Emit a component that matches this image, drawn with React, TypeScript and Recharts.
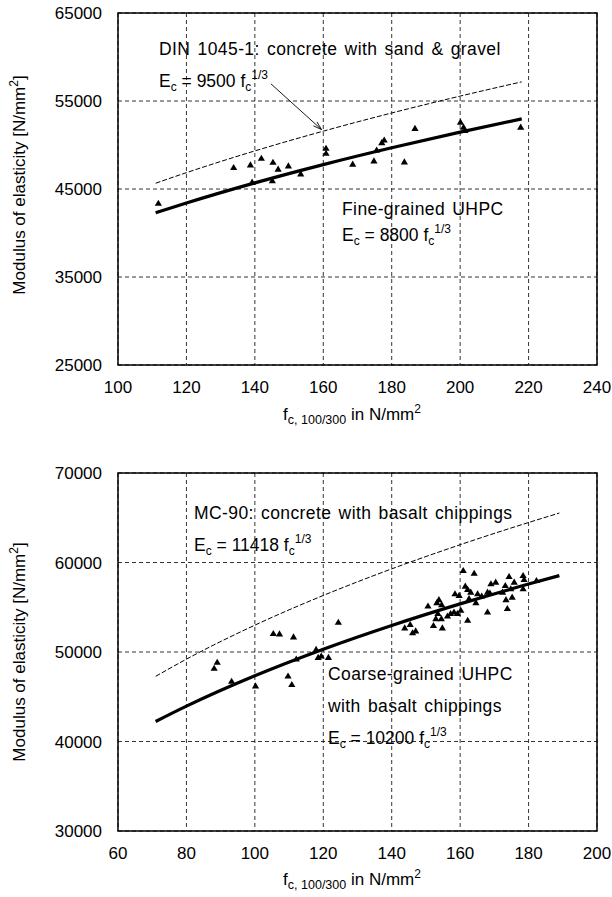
import React from 'react';
import {
  ComposedChart,
  Line,
  Scatter,
  XAxis,
  YAxis,
  CartesianGrid,
  ReferenceArea,
  ReferenceLine,
} from 'recharts';

// upper chart: fine-grained UHPC
const topFitStrength = [111, 120, 140, 160, 180, 200, 218];
const topDin = [45655, 46858, 49329, 51574, 53639, 55556, 57176];
const topFine = [42291, 43405, 45694, 47773, 49687, 51462, 52963];
const topTestStrength = [
  111.8, 133.8, 138.7, 139.2, 141.9, 145.1, 145.3, 146.8, 149.8, 153.4, 160.8, 160.8,
  168.6, 174.8, 175.6, 177.1, 177.8, 183.7, 186.8, 200.1, 201.0, 201.4, 217.7,
];
const topTestModulus = [
  43380, 47450, 47750, 45790, 48500, 45940, 48050, 47260, 47630, 46730, 49630, 49070,
  47830, 48200, 49440, 50280, 50570, 48090, 51890, 52600, 52040, 51670, 52040,
];
const topXTicks = [100, 120, 140, 160, 180, 200, 220, 240];
const topYTicks = [25000, 35000, 45000, 55000, 65000];

// lower chart: coarse-grained UHPC
const bottomFitStrength = [71, 80, 100, 120, 140, 160, 180, 189];
const bottomMc90 = [47280, 49199, 52998, 56318, 59288, 61986, 64468, 65526];
const bottomCoarse = [42236, 43951, 47344, 50310, 52964, 55374, 57591, 58536];
const bottomTestStrength = [
  88.1, 89.0, 93.2, 100.2, 105.4, 107.2, 109.7, 110.8, 111.3, 112.1, 117.9, 118.5,
  119.4, 121.5, 124.4, 143.8, 145.4, 146.1, 147.0, 150.6, 152.2, 152.9, 153.2, 153.5,
  153.8, 154.5, 154.6, 154.8, 156.3, 157.2, 158.2, 158.5, 159.2, 159.7, 160.2, 160.9,
  161.5, 162.2, 162.2, 162.6, 163.1, 164.1, 164.6, 165.1, 166.3, 168.0, 168.0, 168.7,
  169.0, 170.4, 172.4, 173.2, 173.4, 173.8, 174.3, 174.8, 175.2, 175.8, 178.4, 178.4,
  178.7, 182.3,
];
const bottomTestModulus = [
  48190, 48860, 46740, 46220, 52080, 52030, 47330, 46370, 51700, 49220, 50300, 49410,
  49560, 49410, 53330, 52700, 53080, 52150, 52370, 55150, 52970, 53740, 55520, 54300,
  55860, 53740, 55300, 52700, 54030, 54300, 54480, 56520, 54300, 56330, 54670, 59110,
  57370, 57000, 53560, 55970, 56700, 58810, 55520, 56520, 56260, 56700, 54480, 56590,
  57630, 57810, 56700, 57440, 55860, 54860, 58440, 57080, 56140, 57810, 58560, 57080,
  58110, 58000,
];
const bottomXTicks = [60, 80, 100, 120, 140, 160, 180, 200];
const bottomYTicks = [30000, 40000, 50000, 60000, 70000];

const FONT = '"Liberation Sans", Arial, Helvetica, sans-serif';

const Triangle = (props: any) => {
  const { cx, cy } = props;
  if (cx == null || cy == null) return null;
  return <polygon points={`${cx},${cy - 3.5} ${cx + 3.6},${cy + 2.6} ${cx - 3.6},${cy + 2.6}`} fill="#000" />;
};

const Arrow = (props: any) => {
  const { x1, y1, x2, y2 } = props;
  if (x1 == null) return null;
  const ang = Math.atan2(y2 - y1, x2 - x1);
  const len = 9;
  const a1 = ang + Math.PI - 0.3;
  const a2 = ang + Math.PI + 0.3;
  return (
    <g>
      <line x1={x1} y1={y1} x2={x2} y2={y2} stroke="#000" strokeWidth={0.9} />
      <polyline
        points={`${x2 + len * Math.cos(a1)},${y2 + len * Math.sin(a1)} ${x2},${y2} ${x2 + len * Math.cos(a2)},${y2 + len * Math.sin(a2)}`}
        fill="none"
        stroke="#000"
        strokeWidth={0.9}
      />
    </g>
  );
};

interface PanelProps {
  fits: { f: number; upper: number; lower: number }[];
  tests: { f: number; E: number }[];
  xTicks: number[];
  yTicks: number[];
  height: number;
  top: number;
  bottom: number;
  arrow?: { x: number; y: number }[];
}

const Panel: React.FC<PanelProps> = ({ fits, tests, xTicks, yTicks, height, top, bottom, arrow }) => {
  const xd: [number, number] = [xTicks[0], xTicks[xTicks.length - 1]];
  const yd: [number, number] = [yTicks[0], yTicks[yTicks.length - 1]];
  const tickStyle = { fill: '#000', fontSize: 17, fontFamily: FONT };
  return (
    <ComposedChart width={612} height={height} data={fits} margin={{ top, right: 15, left: 0, bottom }}>
      <CartesianGrid stroke="#000" strokeWidth={0.8} strokeDasharray="4 3" />
      <XAxis
        dataKey="f"
        type="number"
        domain={xd}
        ticks={xTicks}
        allowDataOverflow
        tickLine={false}
        axisLine={false}
        tickSize={6}
        tickMargin={10}
        height={30}
        tick={tickStyle}
      />
      <YAxis
        type="number"
        domain={yd}
        ticks={yTicks}
        allowDataOverflow
        tickLine={false}
        axisLine={false}
        tickSize={6}
        tickMargin={10}
        width={118}
        tick={tickStyle}
      />
      <ReferenceArea x1={xd[0]} x2={xd[1]} y1={yd[0]} y2={yd[1]} fill="none" stroke="#000" strokeWidth={1.5} ifOverflow="visible" />
      <Line
        dataKey="upper"
        type="monotone"
        stroke="#000"
        strokeWidth={1}
        strokeDasharray="5 2"
        dot={false}
        isAnimationActive={false}
      />
      <Line dataKey="lower" type="monotone" stroke="#000" strokeWidth={3.2} dot={false} isAnimationActive={false} />
      <Scatter data={tests} dataKey="E" shape={Triangle} isAnimationActive={false} />
      {arrow && <ReferenceLine segment={arrow} shape={Arrow} ifOverflow="visible" />}
    </ComposedChart>
  );
};

const Ec = ({ x, y, value }: { x: number; y: number; value: string }) => (
  <text x={x} y={y} fontSize={17.5} fontFamily={FONT} fill="#000">
    E
    <tspan fontSize={12} dy={4}>c</tspan>
    <tspan dy={-4}>{` = ${value} f`}</tspan>
    <tspan fontSize={12} dy={4}>c</tspan>
    <tspan fontSize={12} dy={-12}>1/3</tspan>
  </text>
);

const Note = ({ x, y, children }: { x: number; y: number; children: React.ReactNode }) => (
  <text
    x={x}
    y={y}
    fontSize={17.5}
    fontFamily={FONT}
    fill="#000"
    style={{ letterSpacing: 0.4, wordSpacing: 2 }}
  >
    {children}
  </text>
);

const XTitle = ({ y }: { y: number }) => (
  <text x={352} y={y} textAnchor="middle" fontSize={17} fontFamily={FONT} fill="#000">
    f
    <tspan fontSize={12.5} dy={4}>c, 100/300</tspan>
    <tspan dy={-4}> in N/mm</tspan>
    <tspan fontSize={12} dy={-7}>2</tspan>
  </text>
);

const YTitle = ({ cy }: { cy: number }) => (
  <text
    x={25}
    y={cy}
    transform={`rotate(-90 25 ${cy})`}
    textAnchor="middle"
    fontSize={17}
    fontFamily={FONT}
    fill="#000"
  >
    Modulus of elasticity [N/mm
    <tspan fontSize={12} dy={-7}>2</tspan>
    <tspan dy={7}>]</tspan>
  </text>
);

export default function App() {
  const topFits = topFitStrength.map((f, i) => ({ f, upper: topDin[i], lower: topFine[i] }));
  const topTests = topTestStrength.map((f, i) => ({ f, E: topTestModulus[i] }));
  const bottomFits = bottomFitStrength.map((f, i) => ({ f, upper: bottomMc90[i], lower: bottomCoarse[i] }));
  const bottomTests = bottomTestStrength.map((f, i) => ({ f, E: bottomTestModulus[i] }));

  return (
    <div style={{ position: 'absolute', left: 0, top: 0, width: 612, height: 897, background: '#fff' }}>
      <div style={{ position: 'absolute', left: 0, top: 0 }}>
        <Panel
          fits={topFits}
          tests={topTests}
          xTicks={topXTicks}
          yTicks={topYTicks}
          height={440}
          top={13}
          bottom={45}
          arrow={[
            { x: 144.7, y: 56950 },
            { x: 159.5, y: 51750 },
          ]}
        />
      </div>
      <div style={{ position: 'absolute', left: 0, top: 440 }}>
        <Panel
          fits={bottomFits}
          tests={bottomTests}
          xTicks={bottomXTicks}
          yTicks={bottomYTicks}
          height={457}
          top={33}
          bottom={36}
        />
      </div>
      <svg width={612} height={897} style={{ position: 'absolute', left: 0, top: 0, pointerEvents: 'none' }}>
        <Note x={159} y={55}>DIN 1045-1: concrete with sand &amp; gravel</Note>
        <Ec x={159} y={87} value="9500" />
        <Note x={342} y={215}>Fine-grained UHPC</Note>
        <Ec x={342} y={241} value="8800" />
        <Note x={194} y={519}>MC-90: concrete with basalt chippings</Note>
        <Ec x={194} y={551} value="11418" />
        <Note x={328} y={680}>Coarse-grained UHPC</Note>
        <Note x={328} y={712}>with basalt chippings</Note>
        <Ec x={328} y={744} value="10200" />
        <XTitle y={420} />
        <XTitle y={885} />
        <YTitle cy={185} />
        <YTitle cy={652} />
      </svg>
    </div>
  );
}
